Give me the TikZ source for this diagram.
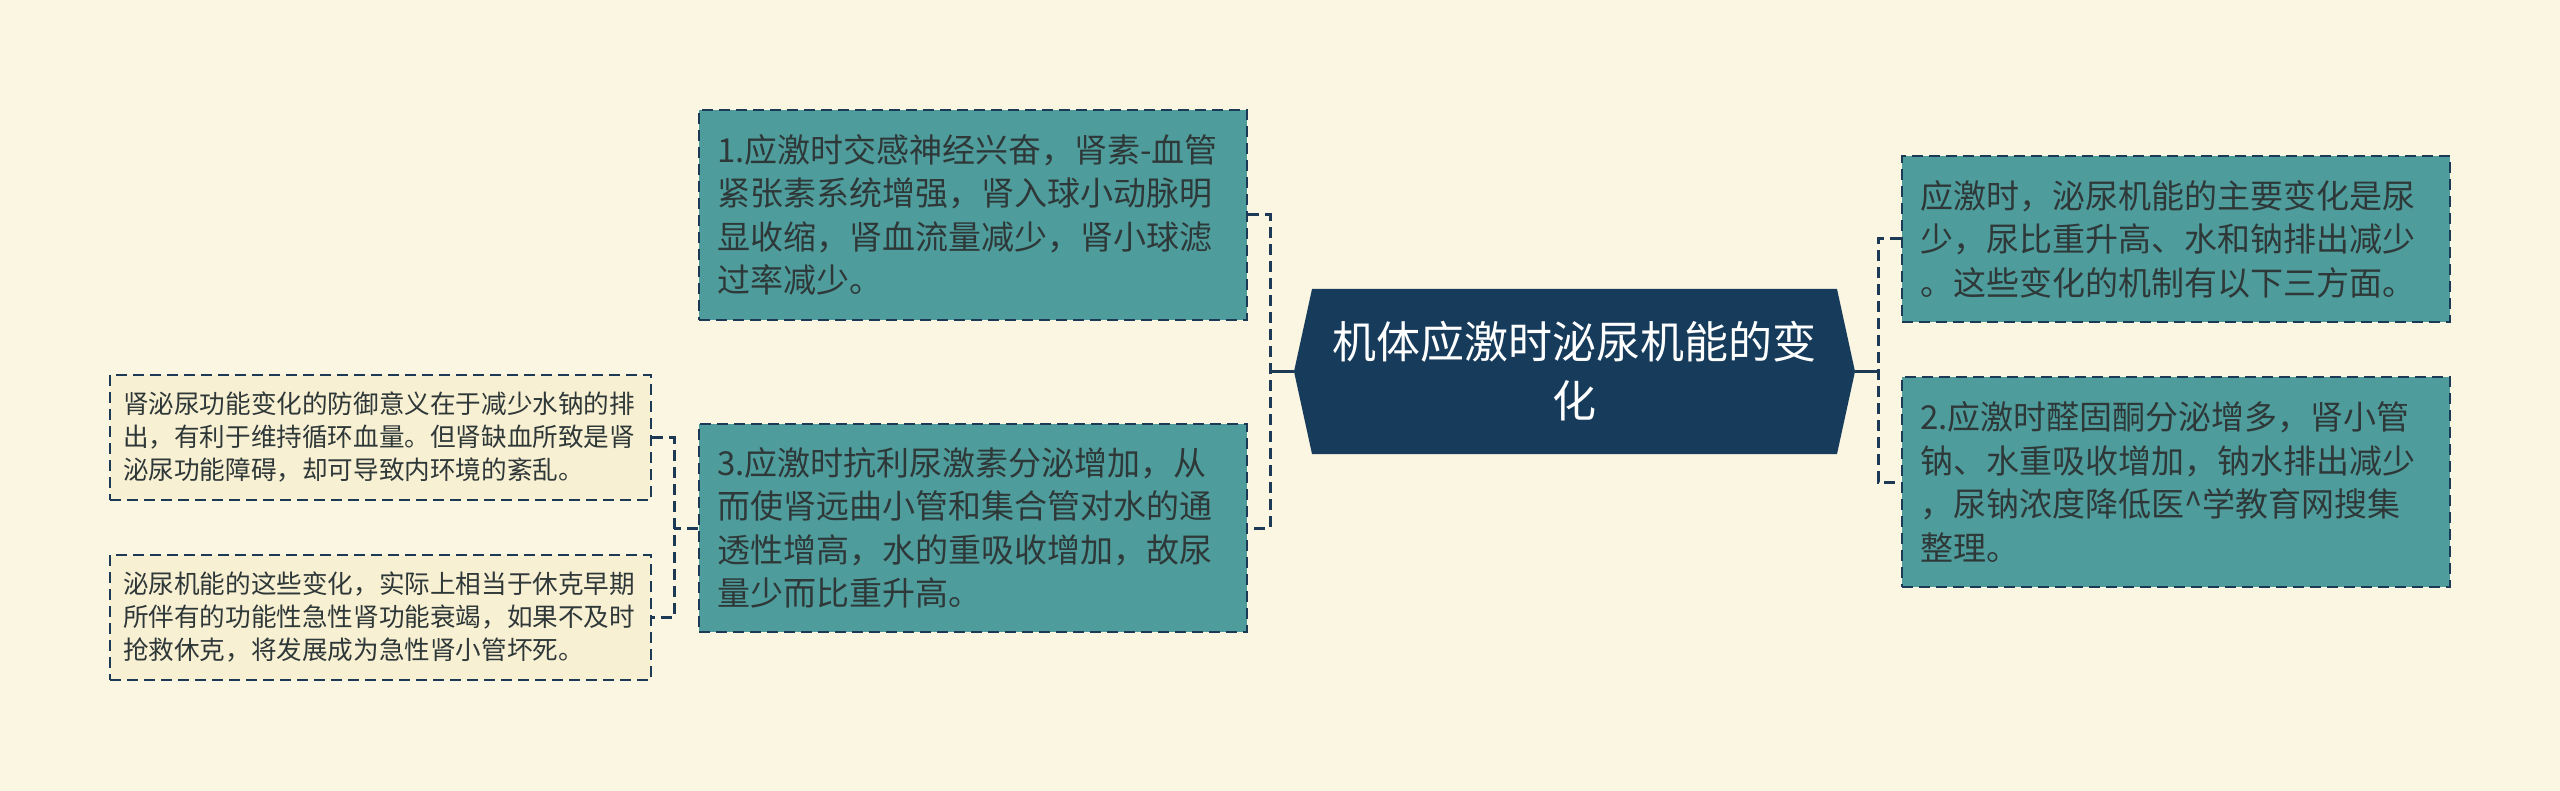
\documentclass[tikz,border=0pt]{standalone}
\usepackage{fontspec}
\setmainfont{Noto Sans CJK SC}
\usetikzlibrary{calc}
\definecolor{bgc}{HTML}{FBF6E1}
\definecolor{tealc}{HTML}{4E9D9C}
\definecolor{centc}{HTML}{173C5B}
\definecolor{navy}{HTML}{1C3A56}
\definecolor{leafc}{HTML}{F8F0D3}
\definecolor{txtc}{HTML}{2F3838}
\tikzset{
  tealbox/.style={rectangle, fill=tealc, draw=navy, line width=2.5pt,
    dash pattern=on 11pt off 6pt, text width=512pt, inner xsep=18pt, inner ysep=0pt,
    align=left, text=txtc, font={\fontsize{33pt}{43.5pt}\selectfont}},
  leafbox/.style={rectangle, fill=leafc, draw=navy, line width=2.5pt,
    dash pattern=on 11pt off 6pt, text width=515pt, minimum height=125pt,
    inner xsep=13pt, inner ysep=0pt, align=left, text=txtc, font={\fontsize{25.6pt}{33pt}\selectfont}},
  centtext/.style={minimum width=561pt, minimum height=165pt, inner sep=0pt,
    align=center, text=white, font={\fontsize{44pt}{59pt}\selectfont}},
  solidconn/.style={draw=navy, line width=3pt},
  dashconn/.style={draw=navy, line width=3pt, dash pattern=on 11pt off 6pt},
}
\begin{document}
\begin{tikzpicture}[x=1pt,y=-1pt]
\useasboundingbox[fill=bgc] (0,0) rectangle (2560,791);
% center hexagon
\fill[centc] (1294,371.5) -- (1312,289) -- (1837,289) -- (1855,371.5) -- (1837,454) -- (1312,454) -- cycle;
\node[centtext] (center) at (1574.5,371.5) {机体应激时泌尿机能的变\\化};
% left branch
\node[tealbox, minimum height=210pt] (L1) at (973,215)
  {1.应激时交感神经兴奋，肾素-血管\\紧张素系统增强，肾入球小动脉明\\显收缩，肾血流量减少，肾小球滤\\过率减少。};
\node[tealbox, minimum height=208pt] (L3) at (973,528)
  {3.应激时抗利尿激素分泌增加，从\\而使肾远曲小管和集合管对水的通\\透性增高，水的重吸收增加，故尿\\量少而比重升高。};
% right branch
\node[tealbox, minimum height=166pt] (R0) at (2176,239)
  {应激时，泌尿机能的主要变化是尿\\少，尿比重升高、水和钠排出减少\\。这些变化的机制有以下三方面。};
\node[tealbox, minimum height=210pt] (R2) at (2176,482)
  {2.应激时醛固酮分泌增多，肾小管\\钠、水重吸收增加，钠水排出减少\\，尿钠浓度降低医\^{}学教育网搜集\\整理。};
% leaves
\node[leafbox] (F1) at (380.5,437.5)
  {肾泌尿功能变化的防御意义在于减少水钠的排\\出，有利于维持循环血量。但肾缺血所致是肾\\泌尿功能障碍，却可导致内环境的紊乱。};
\node[leafbox] (F2) at (380.5,617.5)
  {泌尿机能的这些变化，实际上相当于休克早期\\所伴有的功能性急性肾功能衰竭，如果不及时\\抢救休克，将发展成为急性肾小管坏死。};
% connectors
\coordinate (lbus) at (1270,371.5);
\coordinate (rbus) at (1878,371.5);
\draw[solidconn] (center.west) -- (lbus);
\draw[solidconn] (center.east) -- (rbus);
\draw[dashconn] (L1.east) -| (lbus) |- (L3.east);
\draw[dashconn] (R0.west) -| (rbus) |- (R2.west);
\coordinate (fbus) at (674,528);
\draw[dashconn] (L3.west) -- (fbus);
\draw[dashconn] (F1.east) -| (fbus) |- (F2.east);
\end{tikzpicture}
\end{document}
